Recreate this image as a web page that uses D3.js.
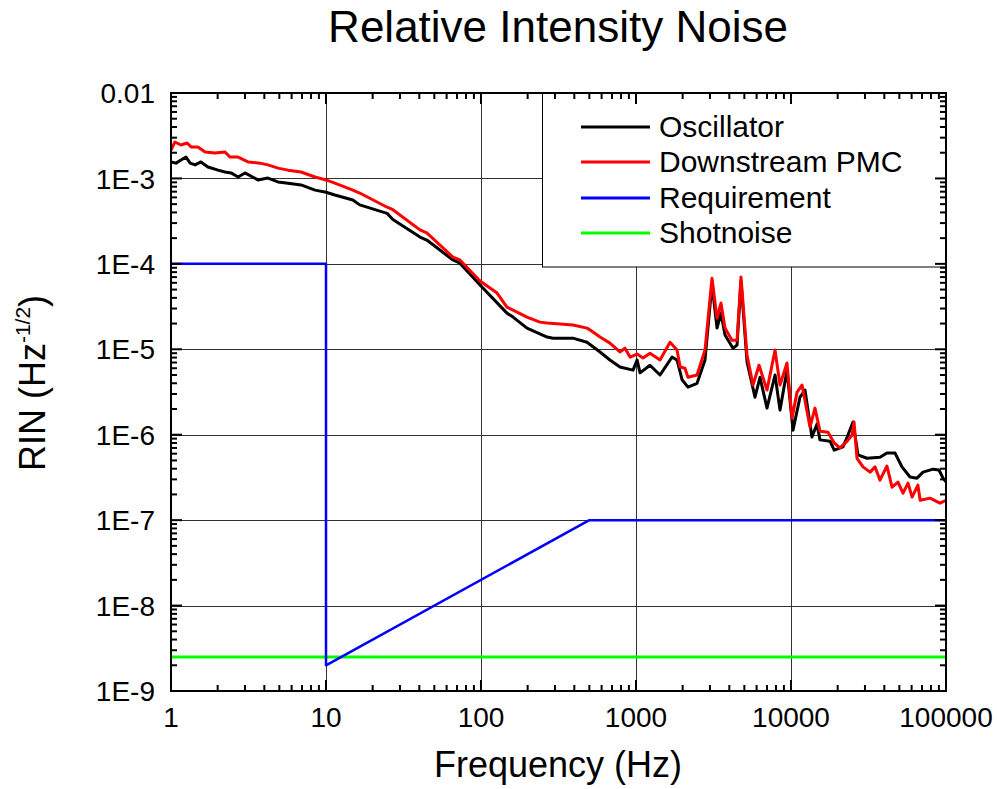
<!DOCTYPE html>
<html>
<head>
<meta charset="utf-8">
<script src="https://cdn.jsdelivr.net/npm/d3@7"></script>
<style>
  body { margin: 0; background: #fff; }
  svg { display: block; font-family: "Liberation Sans", Arial, sans-serif; }
</style>
</head>
<body>
<svg id="chart" width="997" height="789"></svg>
<script>
// data
var oscFreq = [1, 1.077, 1.16, 1.25, 1.33, 1.43, 1.56, 1.73, 2.01, 2.23, 2.44, 2.71, 3.0, 3.64, 4.22, 4.9, 5.69, 6.9, 8.5, 10,
  11.4, 14.9, 16.5, 24.8, 27, 40.4, 44.7, 65.9, 73.1, 98.6, 147, 161, 198, 267, 292, 392, 483, 586, 679, 788,
  957, 1016, 1062, 1231, 1429, 1708, 1840, 1982, 2164, 2477, 2787, 3093, 3332, 3533, 3752, 4225, 4486, 4757, 5203, 5857,
  6310, 7000, 7888, 8492, 9422, 10300, 11430, 12310, 13650, 14720, 15380, 17850, 19000, 21650, 23040, 25120, 27040, 30900, 37500, 41600,
  46900, 52000, 58600, 65000, 71100, 82500, 90100, 95700, 100000];
var oscRin = [1.56e-3, 1.51e-3, 1.64e-3, 1.78e-3, 1.51e-3, 1.44e-3, 1.56e-3, 1.36e-3, 1.25e-3, 1.19e-3, 1.16e-3, 1.04e-3, 1.16e-3, 9.6e-4, 1.01e-3, 9.1e-4, 8.8e-4, 8.4e-4, 7.3e-4, 6.9e-4,
  6.4e-4, 5.6e-4, 4.9e-4, 3.9e-4, 3.3e-4, 2.06e-4, 1.9e-4, 1.11e-4, 1.02e-4, 5.65e-5, 2.65e-5, 2.38e-5, 1.77e-5, 1.39e-5, 1.35e-5, 1.35e-5, 1.21e-5, 9.3e-6, 7.5e-6, 6.2e-6,
  5.7e-6, 7.5e-6, 5.3e-6, 6.5e-6, 5.0e-6, 8.1e-6, 7.5e-6, 4.4e-6, 3.6e-6, 4.0e-6, 7.5e-6, 5.8e-5, 1.77e-5, 2.65e-5, 1.47e-5, 1.03e-5, 1.12e-5, 6.3e-5, 7.1e-6, 2.75e-6,
  4.7e-6, 2.05e-6, 5.0e-6, 1.94e-6, 5.7e-6, 1.13e-6, 2.75e-6, 3.33e-6, 9.4e-7, 1.33e-6, 8.7e-7, 8.4e-7, 6.6e-7, 7.2e-7, 9.4e-7, 1.41e-6, 5.8e-7, 5.3e-7, 5.45e-7, 6.1e-7,
  6.1e-7, 4.2e-7, 3.2e-7, 3.1e-7, 3.65e-7, 3.95e-7, 3.86e-7, 3.1e-7, 2.8e-7];

var pmcFreq = [1, 1.06, 1.16, 1.27, 1.35, 1.49, 1.66, 1.92, 2.23, 2.4, 2.71, 3.14, 3.75, 4.22, 4.9, 5.69, 6.9, 8.5, 10, 11.4,
  14.9, 16.5, 24.8, 27, 40.4, 44.7, 65.9, 73.1, 98.6, 127, 147, 161, 198, 240, 267, 392, 483, 506, 586, 679,
  788, 849, 915, 1016, 1110, 1231, 1429, 1657, 1840, 1927, 2070, 2164, 2477, 2787, 3093, 3332, 3533, 3752, 4160, 4486,
  4757, 5203, 5686, 6220, 7000, 7888, 8492, 9422, 10150, 10940, 11780, 13260, 14280, 15380, 17330, 19000, 20700, 23040, 24760, 25500,
  26660, 29150, 32360, 34830, 37500, 41600, 44870, 49000, 52800, 56900, 60400, 65900, 68100, 78900, 91400, 100000];
var pmcRin = [2.15e-3, 2.67e-3, 2.46e-3, 2.6e-3, 2.33e-3, 2.33e-3, 2.04e-3, 1.98e-3, 2.04e-3, 1.78e-3, 1.78e-3, 1.56e-3, 1.51e-3, 1.44e-3, 1.32e-3, 1.25e-3, 1.19e-3, 1.04e-3, 9.6e-4, 8.8e-4,
  7.3e-4, 6.75e-4, 4.6e-4, 4.3e-4, 2.5e-4, 2.3e-4, 1.2e-4, 1.11e-4, 6.3e-5, 4.55e-5, 3.12e-5, 2.88e-5, 2.38e-5, 2.08e-5, 2.03e-5, 1.92e-5, 1.77e-5, 1.68e-5, 1.39e-5, 1.18e-5,
  9.3e-6, 1.03e-5, 8.1e-6, 8.8e-6, 7.9e-6, 9.0e-6, 7.5e-6, 1.21e-5, 9.8e-6, 6.2e-6, 6.0e-6, 4.7e-6, 5.0e-6, 9.8e-6, 6.8e-5, 2.32e-5, 3.48e-5, 1.77e-5, 1.28e-5, 1.28e-5,
  7.0e-5, 8.55e-6, 3.81e-6, 6.5e-6, 3.33e-6, 9.8e-6, 3.81e-6, 6.9e-6, 1.56e-6, 3.15e-6, 3.81e-6, 1.23e-6, 2.05e-6, 1.1e-6, 1.07e-6, 8.0e-7, 7.0e-7, 8.4e-7, 9.9e-7, 1.41e-6,
  5.3e-7, 4.2e-7, 3.65e-7, 4.2e-7, 2.94e-7, 4.3e-7, 2.43e-7, 2.79e-7, 2.07e-7, 2.71e-7, 1.86e-7, 2.57e-7, 1.71e-7, 1.81e-7, 1.58e-7, 1.71e-7];

var reqFreq = [1, 10, 10, 500, 100000];
var reqRin = [1e-4, 1e-4, 2e-9, 1e-7, 1e-7];

var shotFreq = [1, 100000];
var shotRin = [2.5e-9, 2.5e-9];

var seriesNames = ["Oscillator", "Downstream PMC", "Requirement", "Shotnoise"];
var seriesColors = ["#000000", "#ff0000", "#0000ff", "#00ff00"];

var xTickValues = [1, 10, 100, 1000, 10000, 100000];
var yTickValues = [1e-9, 1e-8, 1e-7, 1e-6, 1e-5, 1e-4, 1e-3, 1e-2];
var yTickLabels = ["1E-9", "1E-8", "1E-7", "1E-6", "1E-5", "1E-4", "1E-3", "0.01"];

var svg = d3.select("#chart");
var pLeft = 171, pRight = 946, pTop = 93, pBottom = 691;

var x = d3.scaleLog().domain([1, 100000]).range([pLeft, pRight]);
var y = d3.scaleLog().domain([1e-9, 1e-2]).range([pBottom, pTop]);

function minorTicks(lo, hi) {
  var out = [];
  for (var d = lo; d < hi * 0.999; d *= 10) {
    for (var k = 2; k <= 9; k++) out.push(d * k);
  }
  return out;
}
var xMinor = minorTicks(1, 100000);
var yMinor = minorTicks(1e-9, 1e-2);

// grid at major ticks
var grid = svg.append("g").attr("stroke", "#333").attr("stroke-width", 1);
grid.selectAll(".gx").data(xTickValues.slice(1, -1)).enter().append("line")
  .attr("x1", function(d) { return Math.round(x(d)) + 0.5; })
  .attr("x2", function(d) { return Math.round(x(d)) + 0.5; })
  .attr("y1", pTop).attr("y2", pBottom);
grid.selectAll(".gy").data(yTickValues.slice(1, -1)).enter().append("line")
  .attr("y1", function(d) { return Math.round(y(d)) + 0.5; })
  .attr("y2", function(d) { return Math.round(y(d)) + 0.5; })
  .attr("x1", pLeft).attr("x2", pRight);

// legend box (covers the grid)
var legendBox = { x: 542, y: pTop, w: pRight - 542, h: 174 };
svg.append("rect")
  .attr("x", legendBox.x + 0.5).attr("y", legendBox.y)
  .attr("width", legendBox.w).attr("height", legendBox.h)
  .attr("fill", "#fff").attr("stroke", "#000").attr("stroke-width", 1);

svg.append("clipPath").attr("id", "plotclip")
  .append("rect").attr("x", pLeft).attr("y", pTop).attr("width", pRight - pLeft).attr("height", pBottom - pTop);

var line = d3.line()
  .x(function(d) { return x(d[0]); })
  .y(function(d) { return y(d[1]); });

var series = [
  { name: seriesNames[3], color: seriesColors[3], f: shotFreq, v: shotRin, w: 3 },
  { name: seriesNames[2], color: seriesColors[2], f: reqFreq, v: reqRin, w: 2.5 },
  { name: seriesNames[0], color: seriesColors[0], f: oscFreq, v: oscRin, w: 3 },
  { name: seriesNames[1], color: seriesColors[1], f: pmcFreq, v: pmcRin, w: 3 }
];

var plot = svg.append("g").attr("clip-path", "url(#plotclip)");
plot.selectAll("path").data(series).enter().append("path")
  .attr("d", function(s) { return line(d3.zip(s.f, s.v)); })
  .attr("fill", "none")
  .attr("stroke", function(s) { return s.color; })
  .attr("stroke-width", function(s) { return s.w; })
  .attr("stroke-linejoin", "round");

// frame and inward ticks on all four sides
var axes = svg.append("g").attr("stroke", "#000").attr("stroke-width", 2);
var majorLen = 11, minorLen = 6;
xTickValues.forEach(function(d) {
  var px = x(d);
  axes.append("line").attr("x1", px).attr("x2", px).attr("y1", pBottom).attr("y2", pBottom - majorLen);
  axes.append("line").attr("x1", px).attr("x2", px).attr("y1", pTop).attr("y2", pTop + majorLen);
});
xMinor.forEach(function(d) {
  var px = x(d);
  axes.append("line").attr("x1", px).attr("x2", px).attr("y1", pBottom).attr("y2", pBottom - minorLen);
  axes.append("line").attr("x1", px).attr("x2", px).attr("y1", pTop).attr("y2", pTop + minorLen);
});
yTickValues.forEach(function(d) {
  var py = y(d);
  axes.append("line").attr("y1", py).attr("y2", py).attr("x1", pLeft).attr("x2", pLeft + majorLen);
  axes.append("line").attr("y1", py).attr("y2", py).attr("x1", pRight).attr("x2", pRight - majorLen);
});
yMinor.forEach(function(d) {
  var py = y(d);
  axes.append("line").attr("y1", py).attr("y2", py).attr("x1", pLeft).attr("x2", pLeft + minorLen);
  axes.append("line").attr("y1", py).attr("y2", py).attr("x1", pRight).attr("x2", pRight - minorLen);
});
axes.append("rect").attr("x", pLeft).attr("y", pTop).attr("width", pRight - pLeft).attr("height", pBottom - pTop)
  .attr("fill", "none");

// tick labels
svg.append("g").selectAll("text").data(xTickValues).enter().append("text")
  .attr("x", function(d) { return x(d); })
  .attr("y", 727)
  .attr("text-anchor", "middle")
  .attr("font-size", 28)
  .text(function(d) { return String(d); });

svg.append("g").selectAll("text").data(yTickValues).enter().append("text")
  .attr("x", 155)
  .attr("y", function(d) { return y(d); })
  .attr("dy", "0.36em")
  .attr("text-anchor", "end")
  .attr("font-size", 28)
  .text(function(d, i) { return yTickLabels[i]; });

// titles
svg.append("text").attr("x", 558).attr("y", 42).attr("text-anchor", "middle")
  .attr("font-size", 44).text("Relative Intensity Noise");

svg.append("text").attr("x", 558).attr("y", 777).attr("text-anchor", "middle")
  .attr("font-size", 36).text("Frequency (Hz)");

var yl = svg.append("text").attr("transform", "translate(45,383) rotate(-90)")
  .attr("text-anchor", "middle").attr("font-size", 36);
yl.append("tspan").text("RIN (Hz");
yl.append("tspan").attr("font-size", 21).attr("dy", -15).text("-1/2");
yl.append("tspan").attr("dy", 15).text(")");

// legend entries
var legendRows = [127, 162, 198, 233];
var lg = svg.append("g");
seriesNames.forEach(function(name, i) {
  lg.append("line").attr("x1", 581).attr("x2", 650)
    .attr("y1", legendRows[i]).attr("y2", legendRows[i])
    .attr("stroke", seriesColors[i]).attr("stroke-width", 3);
  lg.append("text").attr("x", 659).attr("y", legendRows[i] + 10)
    .attr("font-size", 30).text(name);
});
</script>
</body>
</html>
